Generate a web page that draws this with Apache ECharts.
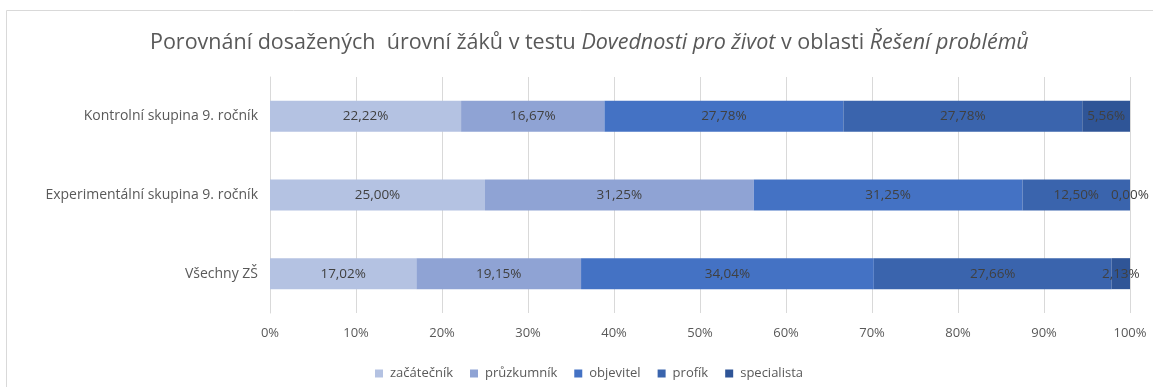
<!DOCTYPE html>
<html>
<head>
<meta charset="utf-8">
<script src="https://cdn.jsdelivr.net/npm/echarts@6/dist/echarts.min.js"></script>
<style>
  html, body { margin: 0; padding: 0; background: #fff; }
  #chart { width: 1153px; height: 387px; }
</style>
</head>
<body>
<div id="chart"></div>
<script>
// Groups (top to bottom) and the share of pupils at each level, in percent
const categories = ['Kontrolní skupina 9. ročník', 'Experimentální skupina 9. ročník', 'Všechny ZŠ'];
const levels = ['začátečník', 'průzkumník', 'objevitel', 'profík', 'specialista'];
const zacatecnik = [22.22, 25.00, 17.02];
const pruzkumnik = [16.67, 31.25, 19.15];
const objevitel = [27.78, 31.25, 34.04];
const profik = [27.78, 12.50, 27.66];
const specialista = [5.56, 0.00, 2.13];
const xTicks = ['0%', '10%', '20%', '30%', '40%', '50%', '60%', '70%', '80%', '90%', '100%'];

const seriesValues = [zacatecnik, pruzkumnik, objevitel, profik, specialista];
const colors = ['#b4c2e2', '#8fa3d4', '#4472c4', '#3a64ad', '#2f5597'];
const FONT = 'Open Sans';

const chart = echarts.init(document.getElementById('chart'));

chart.setOption({
  animation: false,
  textStyle: { fontFamily: FONT },
  title: {
    text: '{n|Porovnání dosažených  úrovní žáků v testu }{i|Dovednosti pro život}{n| v oblasti }{i|Řešení problémů}',
    left: 145,
    top: 27,
    textStyle: {
      fontWeight: 'normal',
      rich: {
        n: { fontFamily: FONT, fontSize: 21.5, fontWeight: 'normal', color: '#595959' },
        i: { fontFamily: FONT, fontSize: 21.5, fontWeight: 'normal', color: '#595959', fontStyle: 'italic' }
      }
    }
  },
  graphic: [{
    type: 'rect',
    shape: { x: 6.5, y: 10.5, width: 1300, height: 500 },
    style: { fill: 'none', stroke: '#d9d9d9', lineWidth: 1 },
    silent: true
  }],
  legend: {
    data: levels,
    left: 370,
    top: 362,
    itemWidth: 8,
    itemHeight: 8,
    itemGap: 17,
    icon: 'rect',
    textStyle: { fontFamily: FONT, fontSize: 13, color: '#595959', padding: [0, 0, 0, 2] }
  },
  grid: { left: 270, right: 23, top: 77, bottom: 74, containLabel: false },
  xAxis: {
    type: 'value',
    min: 0,
    max: 100,
    interval: 10,
    axisLine: { show: false },
    axisTick: { show: false },
    splitLine: { lineStyle: { color: '#d9d9d9', width: 1 } },
    axisLabel: {
      color: '#595959',
      fontSize: 13,
      margin: 14,
      formatter: (v) => xTicks[Math.round(v / 10)]
    }
  },
  yAxis: {
    type: 'category',
    data: categories,
    inverse: true,
    axisLine: { show: true, lineStyle: { color: '#d9d9d9' } },
    axisTick: { show: false },
    axisLabel: { color: '#595959', fontSize: 14, margin: 12 }
  },
  series: levels.map((name, i) => ({
    name: name,
    type: 'bar',
    stack: 'total',
    barWidth: 31,
    itemStyle: { color: colors[i] },
    data: seriesValues[i],
    label: {
      show: true,
      position: 'inside',
      color: '#404040',
      fontSize: 13.5,
      fontFamily: FONT,
      formatter: (p) => p.value.toFixed(2).replace('.', ',') + '%'
    }
  }))
});
</script>
</body>
</html>
